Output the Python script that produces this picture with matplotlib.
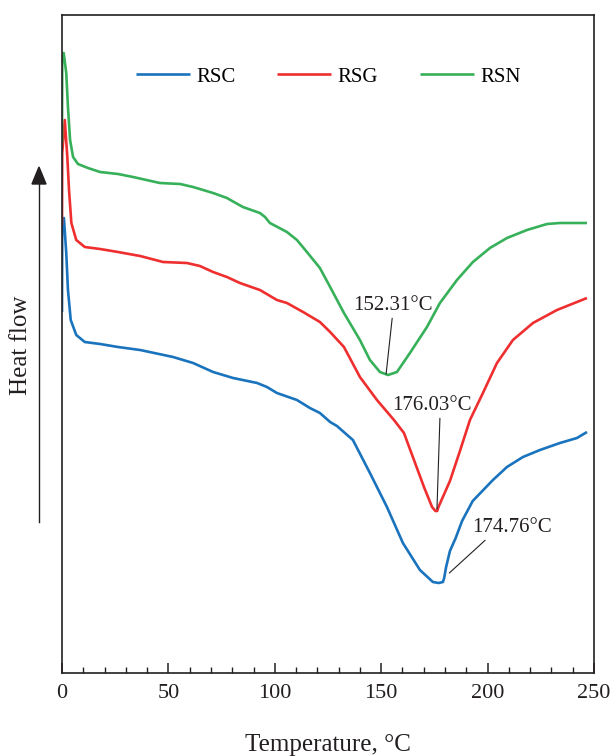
import matplotlib.pyplot as plt
import numpy as np

plt.rcParams['font.family'] = ['Liberation Serif', 'DejaVu Serif']

# temperature (C) and heat flow (arbitrary units)
rsc_t = [0, 0.1, 0.9, 2.0, 2.8, 4.1, 6.7, 10.7, 17.9, 26.3, 36.7, 52.2, 61.6, 71, 80.4,
         91.7, 96.3, 101, 110.4, 116.5, 121.2, 126, 129.2, 136.7, 144.7, 152.7, 160.2,
         168.2, 174.3, 177, 179, 179.6, 180.5, 182.3, 185, 188, 193, 202.5, 209.1,
         216.6, 224.6, 234, 242, 246.7]
rsc_hf = [361, 440, 455, 420, 383, 353, 338, 331, 329, 326, 323, 316, 310, 301, 295,
          290, 286, 280, 273, 265, 260, 251, 247, 233, 200, 166, 130,
          103, 91, 90, 91, 95, 106, 122, 135, 152, 172, 193, 206,
          216, 223, 230, 235, 241]

rsg_t = [0, 0.1, 1.3, 2.5, 3.3, 4.4, 6.7, 10.7, 17.9, 26.3, 36.7, 47.5, 58.7, 64.8, 71,
         77.5, 83.6, 93, 101, 105.7, 113.3, 121.2, 126, 132.5, 140, 148, 156, 160.7,
         165.4, 170.1, 173.9, 175.5, 176.3, 176.9, 182.3, 187, 191.7, 197.8, 204.4,
         211.9, 221.3, 232.6, 246.7]
rsg_hf = [448, 520, 553, 516, 483, 450, 433, 426, 424, 421, 417, 411, 410, 407, 401,
          396, 390, 383, 373, 370, 361, 351, 341, 326, 296, 273, 253, 240,
          213, 186, 166, 162, 162, 166, 192, 222, 253, 280, 310,
          333, 350, 363, 375]

rsn_t = [0, 0.1, 0.8, 2.0, 2.8, 3.8, 5.2, 7.5, 12.2, 17.9, 26.3, 33.4, 46, 55.5, 61.6,
         71, 77.5, 85, 93, 95.4, 97.7, 105.7, 110.4, 115.1, 121.2, 126, 132.5, 140,
         144.7, 149.4, 153.2, 157.4, 163.5, 171.5, 177.6, 185.6, 193.1, 201.1, 209.1,
         218.5, 227.9, 234, 246.7]
rsn_hf = [530, 610, 620, 600, 566, 533, 516, 509, 505, 501, 499, 496, 490, 489, 486,
          480, 475, 466, 460, 456, 450, 441, 433, 421, 405, 386, 360, 333,
          313, 301, 298, 301, 320, 346, 370, 393, 411, 425, 435,
          443, 449, 450, 450]

series = [('RSC', rsc_t, rsc_hf, '#1a73bd'),
          ('RSG', rsg_t, rsg_hf, '#ee2e2f'),
          ('RSN', rsn_t, rsn_hf, '#37b05a')]

peak_labels = ['152.31°C', '176.03°C', '174.76°C']

fig = plt.figure(figsize=(6.12, 7.56), dpi=100)
ax = fig.add_axes([62 / 612, 1 - 673 / 756, 532 / 612, 658 / 756])

for name, t, hf, col in series:
    ax.plot(t, hf, color=col, lw=1.9, label=name, solid_capstyle='butt',
            solid_joinstyle='round')

ax.set_xlim(0, 250)
ax.set_ylim(0, 658)
ax.set_xticks(np.arange(0, 251, 50))
ax.set_xticks(np.arange(0, 251, 10), minor=True)
ax.set_yticks([])
ax.tick_params(axis='x', which='major', direction='in', length=7, width=1.1,
               labelsize=16, pad=8, colors='#231f20')
ax.tick_params(axis='x', which='minor', direction='in', length=4, width=1.0,
               colors='#231f20')
for s in ax.spines.values():
    s.set_linewidth(1.2)
    s.set_color('#231f20')

ax.set_xlabel('Temperature, °C', fontsize=18, color='#231f20')
ax.xaxis.set_label_coords(0.5, (673 - 745) / 658)
ax.xaxis.label.set_va('center')

ax.legend(loc='center', bbox_to_anchor=(0.5, 0.906), ncol=3, frameon=False,
          fontsize=15, handlelength=2.6, handletextpad=0.3, columnspacing=2.0)

# peak annotations
ax.annotate(peak_labels[0], xy=(152.3, 299), xytext=(155.3, 367),
            fontsize=15, ha='center', va='center', color='#231f20',
            arrowprops=dict(arrowstyle='-', color='#231f20', lw=0.8,
                            shrinkA=0, shrinkB=0, relpos=(0.5, 0)))
ax.annotate(peak_labels[1], xy=(176.2, 164), xytext=(173.9, 267),
            fontsize=15, ha='center', va='center', color='#231f20',
            arrowprops=dict(arrowstyle='-', color='#231f20', lw=0.8,
                            shrinkA=0, shrinkB=0, relpos=(0.6, 0)))
ax.annotate(peak_labels[2], xy=(182.0, 100), xytext=(211.5, 145),
            fontsize=15, ha='center', va='center', color='#231f20',
            arrowprops=dict(arrowstyle='-', color='#231f20', lw=0.8,
                            shrinkA=0, shrinkB=0, relpos=(0.2, 0)))

# heat flow arrow outside the axes
fig.add_artist(plt.Line2D([39 / 612, 39 / 612], [1 - 522 / 756, 1 - 180 / 756],
                          color='#231f20', lw=1.0, transform=fig.transFigure))
fig.add_artist(plt.Polygon([[32 / 612, 1 - 184 / 756], [46 / 612, 1 - 184 / 756],
                            [39 / 612, 1 - 167 / 756]], closed=True,
                           color='#231f20', transform=fig.transFigure))
fig.text(21 / 612, 1 - 345 / 756, 'Heat flow', rotation=90, fontsize=18,
         ha='center', va='center', color='#231f20')

fig.savefig('out.png', dpi=100)
